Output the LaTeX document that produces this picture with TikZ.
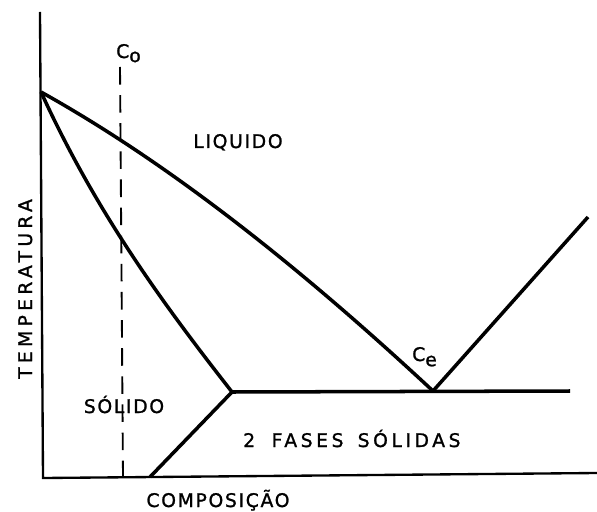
\documentclass[tikz,border=0pt]{standalone}
\usepackage{fontspec}
\setmainfont{DejaVu Sans}
\newfontfamily\lblfont{DejaVu Sans}[LetterSpace=9, FakeBold=1.2]
\newfontfamily\midfont{DejaVu Sans}[LetterSpace=19, FakeBold=1.2]
\newfontfamily\widefont{DejaVu Sans}[LetterSpace=23, FakeBold=1.2]

\begin{document}
\begin{tikzpicture}[x=0.03cm, y=-0.03cm,
    axis/.style={line width=2pt},
    phase/.style={line width=3pt, line join=round},
    comp/.style={line width=1.6pt, dash pattern=on 15pt off 9pt},
    lbl/.style={font=\lblfont\fontsize{16}{18}\selectfont, inner sep=0pt},
    mlbl/.style={font=\midfont\fontsize{16}{18}\selectfont, inner sep=0pt},
    vlbl/.style={font=\widefont\fontsize{16}{18}\selectfont, inner sep=0pt}
]
    \useasboundingbox (0,0) rectangle (597,511);
    \coordinate (top) at (40,12);
    \coordinate (orig) at (43,478);
    \coordinate (xend) at (597,473);
    \coordinate (tA) at (41,92);
    \coordinate (sv) at (232,392);
    \coordinate (ce) at (433,391);
    \coordinate (liqend) at (588,217);
    \coordinate (eutend) at (570,391);
    \coordinate (lowend) at (150,477);
    \coordinate (cotop) at (120,67);
    \coordinate (cobot) at (123,477);

    \draw[axis] (top) -- (orig) -- (xend);
    \draw[comp] (cotop) -- (cobot);
    \draw[phase] (tA) .. controls (172,165) and (303,270) .. (ce) -- (liqend);
    \draw[phase] (tA) .. controls (95,210) and (160,300) .. (sv) -- (eutend);
    \draw[phase] (sv) -- (lowend);

    \node[lbl, anchor=base west] (co) at (116,58) {C\raisebox{-0.4ex}{o}};
    \node[lbl, anchor=base west] (cel) at (412,361) {C\raisebox{-0.5ex}{e}};
    \node[lbl, anchor=base] (liq) at (238,148) {LIQUIDO};
    \node[lbl, anchor=base] (sol) at (124,413) {SÓLIDO};
    \node[mlbl, anchor=base west] (fases) at (243,447) {2\hspace{6pt} FASES\hspace{4pt} SÓLIDAS};
    \node[lbl, anchor=base] (comp) at (218,507) {COMPOSIÇÃO};
    \node[vlbl, rotate=90, anchor=base] (temp) at (32,289) {TEMPERATURA};
\end{tikzpicture}
\end{document}
